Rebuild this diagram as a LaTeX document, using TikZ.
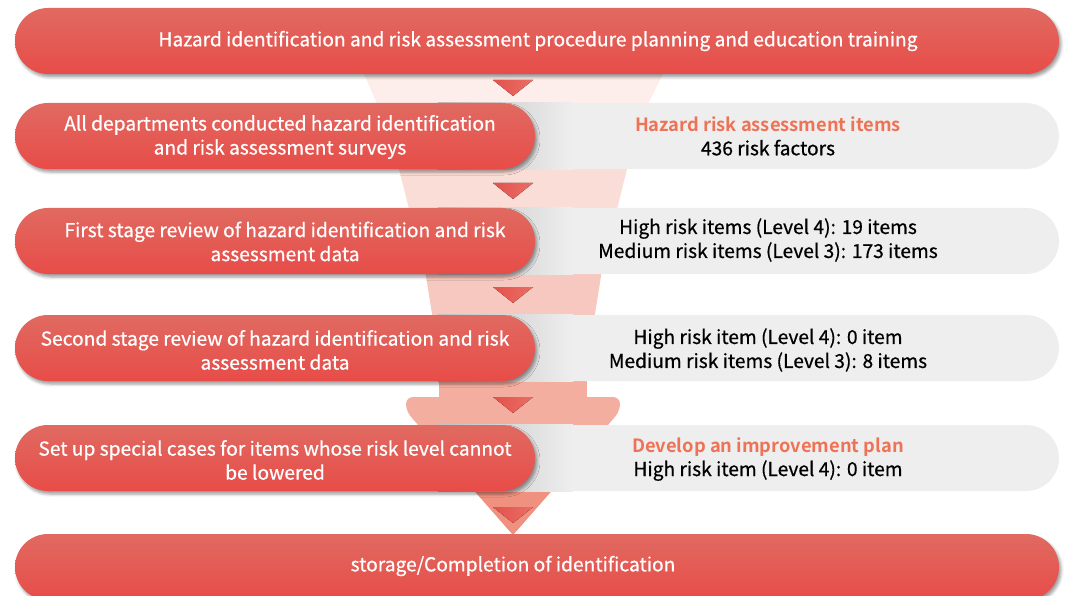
\documentclass[tikz,border=0pt]{standalone}
\usepackage{fontspec}
\setmainfont{Noto Sans CJK SC}[FakeBold=0.6]
\newfontfamily\headfont{Noto Sans CJK SC Bold}
\definecolor{BarTop}{RGB}{224,106,97}
\definecolor{BarBottom}{RGB}{232,76,72}
\definecolor{MarkDark}{RGB}{227,82,77}
\definecolor{MarkLight}{RGB}{234,110,100}
\definecolor{InfoGray}{RGB}{238,238,238}
\definecolor{InfoDark}{RGB}{192,192,192}
\definecolor{AccentOrange}{RGB}{238,115,86}
\definecolor{FunnelA}{RGB}{253,238,235}
\definecolor{FunnelB}{RGB}{251,221,215}
\definecolor{FunnelC}{RGB}{247,200,192}
\definecolor{FunnelD}{RGB}{244,174,160}
\definecolor{FunnelE}{RGB}{240,145,128}
\usepackage{tikz}
\usetikzlibrary{shapes.misc, shadows.blur, calc}

\begin{document}
\begin{tikzpicture}[x=1pt, y=-1pt, font=\fontsize{19.2}{24}\selectfont,
	redbar/.style={rounded rectangle, minimum height=66pt, inner sep=0pt,
		top color=BarTop, bottom color=BarBottom,
		blur shadow={shadow xshift=2pt, shadow yshift=-3pt, shadow blur radius=3pt, shadow opacity=40}},
	infobar/.style={rounded rectangle, rounded rectangle left arc=none, minimum height=66pt,
		minimum width=621pt, inner sep=0pt, fill=InfoGray},
	whitetxt/.style={text=white, align=center},
	infotxt/.style={text=black, align=center},
	tipfill/.style={left color=MarkDark, right color=MarkLight}]
	\useasboundingbox (0,0) rectangle (1068,596);
	% funnel behind the steps
	\fill[FunnelA] (362,70) -- (665,70) -- (646,108) -- (379,108) -- cycle;
	\fill[FunnelB] (398,165) -- (628,165) -- (616,213) -- (410,213) -- cycle;
	\fill[FunnelC] (425,270) -- (602,270) -- (594,320) -- (433,320) -- cycle;
	\fill[FunnelD] (439,378) rectangle (587,400);
	\fill[FunnelD, rounded corners=7pt] (406,397) -- (620,397) -- (620,411) -- (513,535) -- (406,411) -- cycle;
	\fill[FunnelE] (470,486) -- (556,486) -- (513,535) -- cycle;

	% grey result bars
	\node[infobar] (info2) at (748.5,136) {};
	\node[infobar] (info3) at (748.5,241) {};
	\node[infobar] (info4) at (748.5,348) {};
	\node[infobar] (info5) at (748.5,458) {};
	\shade[left color=InfoDark, right color=InfoGray] (info2.north west) rectangle ($(info2.south west)+(135,0)$);
	\shade[left color=InfoDark, right color=InfoGray] (info3.north west) rectangle ($(info3.south west)+(135,0)$);
	\shade[left color=InfoDark, right color=InfoGray] (info4.north west) rectangle ($(info4.south west)+(135,0)$);
	\shade[left color=InfoDark, right color=InfoGray] (info5.north west) rectangle ($(info5.south west)+(135,0)$);

	% red steps
	\node[redbar, minimum width=1044pt] (bar1) at (537,41) {};
	\node[redbar, minimum width=520pt] (bar2) at (275,136) {};
	\node[redbar, minimum width=520pt] (bar3) at (275,241) {};
	\node[redbar, minimum width=520pt] (bar4) at (275,348) {};
	\node[redbar, minimum width=520pt] (bar5) at (275,458) {};
	\node[redbar, minimum width=1044pt] (bar6) at (537,567) {};

	% small arrow marks
	\fill[tipfill] (493,80) -- (533,80) -- (513,96) -- cycle;
	\fill[tipfill] (493,183) -- (533,183) -- (513,199) -- cycle;
	\fill[tipfill] (493,287) -- (533,287) -- (513,303) -- cycle;
	\fill[tipfill] (493,397) -- (533,397) -- (513,413) -- cycle;
	\fill[tipfill] (493,507) -- (533,507) -- (513,523) -- cycle;

	% texts
	\node[whitetxt] (txt1) at (538,41) {Hazard identification and risk assessment procedure planning and education training};
	\node[whitetxt] (txt2) at (280,137) {All departments conducted hazard identification\\and risk assessment surveys};
	\node[whitetxt] (txt3) at (285,241.5) {First stage review of hazard identification and risk\\assessment data};
	\node[whitetxt] (txt4) at (275,350) {Second stage review of hazard identification and risk\\assessment data};
	\node[whitetxt] (txt5) at (275,460) {Set up special cases for items whose risk level cannot\\be lowered};
	\node[whitetxt] (txt6) at (513,566) {storage/Completion of identification};
	\node[infotxt] (val2) at (768,136) {\textcolor{AccentOrange}{\headfont\fontsize{18.3}{24}\selectfont Hazard risk assessment items}\\436 risk factors};
	\node[infotxt] (val3) at (768,240) {High risk items (Level 4): 19 items\\Medium risk items (Level 3): 173 items};
	\node[infotxt] (val4) at (768,350) {High risk item (Level 4): 0 item\\Medium risk items (Level 3): 8 items};
	\node[infotxt] (val5) at (768,459) {\textcolor{AccentOrange}{\headfont\fontsize{18.3}{24}\selectfont Develop an improvement plan}\\High risk item (Level 4): 0 item};
\end{tikzpicture}
\end{document}
